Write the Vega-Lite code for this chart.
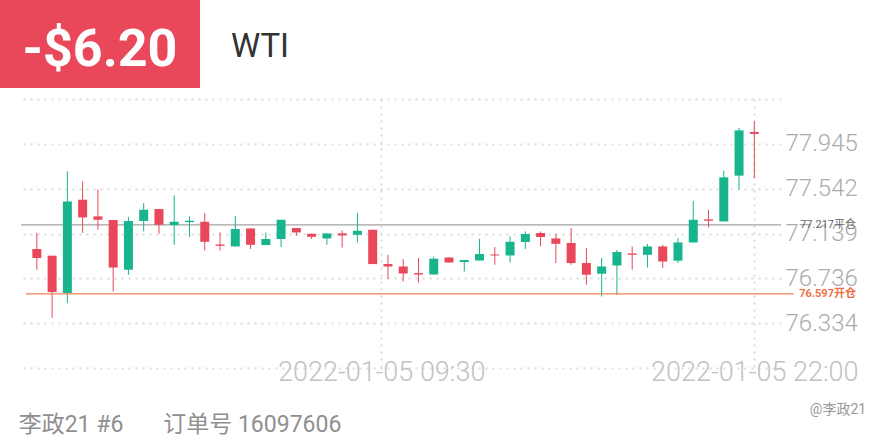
{
  "$schema": "https://vega.github.io/schema/vega-lite/v6.json",
  "padding": 0,
  "background": "white",
  "config": {"view": {"stroke": null}, "font": "Roboto", "concat": {"spacing": 0}},
  "datasets": {
    "candles": [
      {"i": 0, "o": 77.000, "h": 77.146, "l": 76.814, "c": 76.919},
      {"i": 1, "o": 76.940, "h": 76.940, "l": 76.382, "c": 76.613},
      {"i": 2, "o": 76.604, "h": 77.698, "l": 76.514, "c": 77.428},
      {"i": 3, "o": 77.443, "h": 77.608, "l": 77.144, "c": 77.284},
      {"i": 4, "o": 77.293, "h": 77.533, "l": 77.173, "c": 77.263},
      {"i": 5, "o": 77.261, "h": 77.261, "l": 76.618, "c": 76.834},
      {"i": 6, "o": 76.814, "h": 77.288, "l": 76.769, "c": 77.252},
      {"i": 7, "o": 77.252, "h": 77.413, "l": 77.158, "c": 77.353},
      {"i": 8, "o": 77.359, "h": 77.359, "l": 77.137, "c": 77.218},
      {"i": 9, "o": 77.216, "h": 77.482, "l": 77.038, "c": 77.245},
      {"i": 10, "o": 77.242, "h": 77.293, "l": 77.108, "c": 77.254},
      {"i": 11, "o": 77.245, "h": 77.323, "l": 76.987, "c": 77.065},
      {"i": 12, "o": 77.041, "h": 77.149, "l": 76.987, "c": 77.029},
      {"i": 13, "o": 77.023, "h": 77.299, "l": 77.023, "c": 77.180},
      {"i": 14, "o": 77.185, "h": 77.185, "l": 77.000, "c": 77.038},
      {"i": 15, "o": 77.036, "h": 77.149, "l": 77.036, "c": 77.090},
      {"i": 16, "o": 77.090, "h": 77.263, "l": 77.018, "c": 77.263},
      {"i": 17, "o": 77.189, "h": 77.189, "l": 77.119, "c": 77.149},
      {"i": 18, "o": 77.137, "h": 77.137, "l": 77.090, "c": 77.110},
      {"i": 19, "o": 77.095, "h": 77.140, "l": 77.038, "c": 77.140},
      {"i": 20, "o": 77.140, "h": 77.167, "l": 77.014, "c": 77.122},
      {"i": 21, "o": 77.128, "h": 77.323, "l": 77.059, "c": 77.164},
      {"i": 22, "o": 77.173, "h": 77.173, "l": 76.865, "c": 76.865},
      {"i": 23, "o": 76.865, "h": 76.948, "l": 76.730, "c": 76.843},
      {"i": 24, "o": 76.843, "h": 76.910, "l": 76.708, "c": 76.780},
      {"i": 25, "o": 76.784, "h": 76.919, "l": 76.699, "c": 76.771},
      {"i": 26, "o": 76.771, "h": 76.933, "l": 76.771, "c": 76.913},
      {"i": 27, "o": 76.924, "h": 76.924, "l": 76.879, "c": 76.879},
      {"i": 28, "o": 76.883, "h": 76.901, "l": 76.798, "c": 76.901},
      {"i": 29, "o": 76.897, "h": 77.092, "l": 76.897, "c": 76.955},
      {"i": 30, "o": 76.951, "h": 77.018, "l": 76.859, "c": 76.942},
      {"i": 31, "o": 76.942, "h": 77.113, "l": 76.879, "c": 77.065},
      {"i": 32, "o": 77.063, "h": 77.158, "l": 77.000, "c": 77.135},
      {"i": 33, "o": 77.144, "h": 77.158, "l": 77.023, "c": 77.108},
      {"i": 34, "o": 77.095, "h": 77.137, "l": 76.874, "c": 77.047},
      {"i": 35, "o": 77.054, "h": 77.189, "l": 76.859, "c": 76.874},
      {"i": 36, "o": 76.874, "h": 77.009, "l": 76.679, "c": 76.769},
      {"i": 37, "o": 76.778, "h": 76.919, "l": 76.573, "c": 76.843},
      {"i": 38, "o": 76.852, "h": 76.993, "l": 76.589, "c": 76.973},
      {"i": 39, "o": 76.960, "h": 77.023, "l": 76.814, "c": 76.948},
      {"i": 40, "o": 76.948, "h": 77.045, "l": 76.834, "c": 77.023},
      {"i": 41, "o": 77.023, "h": 77.038, "l": 76.829, "c": 76.888},
      {"i": 42, "o": 76.895, "h": 77.099, "l": 76.874, "c": 77.059},
      {"i": 43, "o": 77.059, "h": 77.434, "l": 77.059, "c": 77.263},
      {"i": 44, "o": 77.266, "h": 77.353, "l": 77.194, "c": 77.254},
      {"i": 45, "o": 77.248, "h": 77.704, "l": 77.248, "c": 77.644},
      {"i": 46, "o": 77.659, "h": 78.088, "l": 77.533, "c": 78.066},
      {"i": 47, "o": 78.052, "h": 78.147, "l": 77.638, "c": 78.034}
    ],
    "levels": [
      {"price": 77.217, "label": "77.217平仓", "kind": "close"},
      {"price": 76.597, "label": "76.597开仓", "kind": "open"}
    ]
  },
  "concat": [
    {
      "hconcat": [
        {
          "width": 200, "height": 88,
          "view": {"fill": "#E8485A", "stroke": null},
          "data": {"values": [{"t": "-$6.20"}]},
          "mark": {"type": "text", "color": "white", "fontSize": 52, "fontWeight": "bold", "baseline": "middle", "dy": 6},
          "encoding": {"text": {"field": "t"}}
        },
        {
          "width": 56, "height": 88,
          "data": {"values": [{"t": "WTI"}]},
          "mark": {"type": "text", "color": "#333333", "fontSize": 33, "baseline": "middle", "dy": 3},
          "encoding": {"text": {"field": "t"}}
        }
      ],
      "spacing": 30
    },
    {
      "hconcat": [
        {
          "width": 20, "height": 269,
          "data": {"values": []},
          "mark": "point"
        },
        {
          "width": 760,
          "height": 269,
          "layer": [
            {
              "data": {"name": "levels"},
              "transform": [{"filter": "datum.kind == 'close'"}],
              "mark": {"type": "rule", "color": "#a3a3a3", "strokeWidth": 1.2},
              "encoding": {
                "y": {"field": "price", "type": "quantitative",
                      "scale": {"domain": [75.931, 78.348], "nice": false, "zero": false},
                      "axis": {"orient": "right", "values": [75.931, 76.334, 76.736, 77.139, 77.542, 77.945, 78.348],
                               "labelExpr": "datum.value > 76 && datum.value < 78.2 ? format(datum.value, '.3f') : ''",
                               "grid": true, "gridDash": [2, 5], "gridColor": "#dadada", "gridWidth": 2,
                               "ticks": false, "domain": false, "title": null,
                               "labelFontSize": 24, "labelColor": "#ababab", "labelFontWeight": 300, "labelPadding": 4}}
              }
            },
            {
              "data": {"name": "candles"},
              "mark": {"type": "rule", "strokeWidth": 1},
              "encoding": {
                "x": {"field": "i", "type": "quantitative",
                      "scale": {"domain": [-0.71, 48.42], "nice": false, "zero": false},
                      "axis": {"values": [22.56, 47], "labelExpr": "datum.value < 30 ? '2022-01-05 09:30' : '2022-01-05 22:00'",
                               "grid": true, "gridDash": [2, 5], "gridColor": "#dadada", "gridWidth": 2,
                               "ticks": false, "tickSize": 0, "domain": false, "title": null,
                               "labelFontSize": 27, "labelColor": "#c2c2c2", "labelFontWeight": 300, "labelLimit": 0,
                               "labelBaseline": "middle", "labelPadding": 4, "labelFlush": false, "labelOverlap": false}},
                "y": {"field": "l", "type": "quantitative", "scale": {"domain": [75.931, 78.348], "nice": false, "zero": false}},
                "y2": {"field": "h"},
                "color": {"condition": {"test": "datum.c >= datum.o", "value": "#17B48E"}, "value": "#E8485A"}
              }
            },
            {
              "data": {"name": "candles"},
              "mark": {"type": "bar", "size": 9},
              "encoding": {
                "x": {"field": "i", "type": "quantitative", "scale": {"domain": [-0.71, 48.42], "nice": false, "zero": false}},
                "y": {"field": "o", "type": "quantitative", "scale": {"domain": [75.931, 78.348], "nice": false, "zero": false}},
                "y2": {"field": "c"},
                "color": {"condition": {"test": "datum.c >= datum.o", "value": "#17B48E"}, "value": "#E8485A"}
              }
            },
            {
              "data": {"name": "levels"},
              "transform": [{"filter": "datum.kind == 'open'"}],
              "mark": {"type": "rule", "color": "#F28157", "strokeWidth": 1.2},
              "encoding": {
                "x": {"datum": -0.71, "type": "quantitative"},
                "x2": {"datum": 49.58},
                "y": {"field": "price", "type": "quantitative", "scale": {"domain": [75.931, 78.348], "nice": false, "zero": false}}
              }
            },
            {
              "data": {"name": "levels"},
              "transform": [{"filter": "datum.kind == 'close'"}],
              "mark": {"type": "text", "x": "width", "dx": 75, "align": "right", "baseline": "middle", "fontSize": 11, "color": "#666666", "font": "Roboto, Noto Sans CJK SC"},
              "encoding": {
                "y": {"field": "price", "type": "quantitative", "scale": {"domain": [75.931, 78.348], "nice": false, "zero": false}},
                "text": {"field": "label"}
              }
            },
            {
              "data": {"name": "levels"},
              "transform": [{"filter": "datum.kind == 'open'"}],
              "mark": {"type": "text", "x": "width", "dx": 75, "align": "right", "baseline": "middle", "fontSize": 11, "fontWeight": "bold", "color": "#F0703F", "font": "Roboto, Noto Sans CJK SC"},
              "encoding": {
                "y": {"field": "price", "type": "quantitative", "scale": {"domain": [75.931, 78.348], "nice": false, "zero": false}},
                "text": {"field": "label"}
              }
            }
          ]
        }
      ],
      "spacing": 0
    },
    {
      "hconcat": [
        {
          "width": 360, "height": 36,
          "data": {"values": [{"t": "李政21 #6\u00a0\u00a0\u00a0\u00a0\u00a0\u00a0\u00a0订单号 16097606"}]},
          "mark": {"type": "text", "fontSize": 23, "color": "#8f8f8f", "baseline": "top", "font": "Roboto, Noto Sans CJK SC"},
          "encoding": {"text": {"field": "t"}}
        },
        {
          "width": 80, "height": 36,
          "data": {"values": [{"t": "@李政21"}]},
          "mark": {"type": "text", "fontSize": 14, "color": "#999999", "baseline": "alphabetic", "font": "Roboto, Noto Sans CJK SC"},
          "encoding": {"text": {"field": "t"}}
        }
      ],
      "spacing": 438
    }
  ],
  "columns": 1,
  "align": "none",
  "spacing": 11
}
